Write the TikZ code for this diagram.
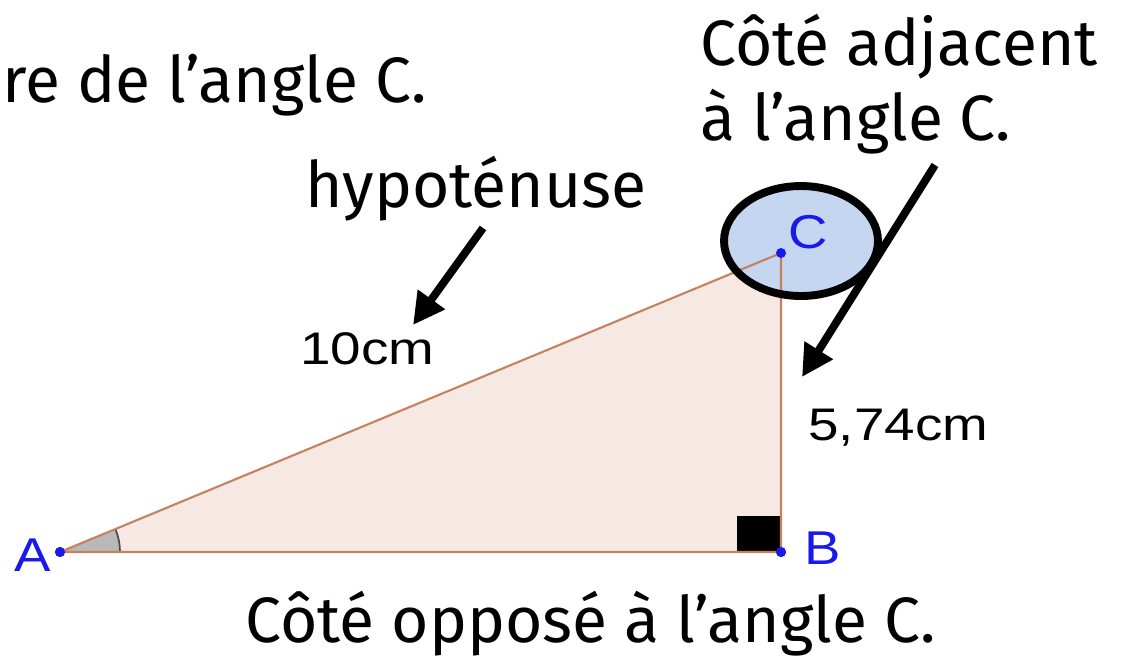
\documentclass[tikz,border=0pt]{standalone}
\usepackage{fontspec}
\setmainfont{Fira Sans}
\newfontfamily\geofont{Liberation Sans}
\usetikzlibrary{arrows.meta, positioning}
\definecolor{trifill}{RGB}{246,232,227}
\definecolor{triedge}{RGB}{198,130,95}
\definecolor{ptblue}{RGB}{25,25,235}
\definecolor{ellfill}{RGB}{196,214,240}

\begin{document}
\begin{tikzpicture}[
      x=0.02cm, y=-0.02cm,
      note/.style={font=\fontsize{36.5}{42}\selectfont, inner sep=0pt, anchor=base west},
      meas/.style={font=\geofont\fontsize{26}{30}\selectfont, inner sep=0pt, anchor=base west},
      vlabel/.style={font=\geofont\fontsize{27}{30}\selectfont, text=ptblue, inner sep=0pt},
      vertex/.style={circle, fill=ptblue, inner sep=0pt, minimum size=0.2cm},
      pointer/.style={-{Triangle[length=18pt, width=18pt]}, line width=4.5pt}
    ]
      \useasboundingbox (0,0) rectangle (1131,657);

      % Vertices
      \node[vertex] (A) at (60,552) {};
      \node[vertex] (B) at (781,552) {};
      \node[vertex] (C) at (781,253) {};

      % Triangle, angle at A, right angle at B
      \fill[trifill] (A.center) -- (B.center) -- (C.center) -- cycle;
      \fill[gray!55] (A.center) -- ++(1.2cm,0) arc[start angle=0, end angle=22.5, radius=1.2cm] -- cycle;
      \draw[black!70, line width=1pt] (A.center) ++(1.2cm,0) arc[start angle=0, end angle=22.5, radius=1.2cm];
      \fill[black] (737,516) rectangle (780,552);

      % Ring around C
      \fill[ellfill] (801,241) ellipse [x radius=1.54cm, y radius=1.1cm];
      \draw[triedge, line width=1.2pt] (A.center) -- (B.center) -- (C.center) -- cycle;
      \draw[line width=4.5pt] (801,241) ellipse [x radius=1.54cm, y radius=1.1cm];
      \node[vertex] at (A) {};
      \node[vertex] at (B) {};
      \node[vertex] at (C) {};

      % Vertex names and lengths
      \node[vlabel] (nameA) at (33,555) {\scalebox{1.15}[1]{A}};
      \node[vlabel] (nameB) at (823,548) {\scalebox{1.15}[1]{B}};
      \node[vlabel] (nameC) at (808,232) {\scalebox{1.15}[1]{C}};
      \node[meas] (hyplen) at (300,364) {\scalebox{1.2}[1]{10cm}};
      \node[meas] (adjlen) at (808,440) {\scalebox{1.2}[1]{5,74cm}};

      % Notes
      \node[note] (opptop) at (2,102) {re de l’angle C.};
      \node[note] (hyp) at (305,207) {hypoténuse};
      \node[note] (adj) at (700,65) {Côté adjacent};
      \node[note] (adj2) at (700,140) {à l’angle C.};
      \node[note] (opp) at (245,642) {Côté opposé à l’angle C.};

      % Pointers
      \coordinate (hypstart) at (483,228);
      \coordinate (hypend) at (413,325);
      \coordinate (adjstart) at (935,165);
      \coordinate (adjend) at (802,377);
      \draw[pointer] (hypstart) -- (hypend);
      \draw[pointer] (adjstart) -- (adjend);

    \end{tikzpicture}
\end{document}
